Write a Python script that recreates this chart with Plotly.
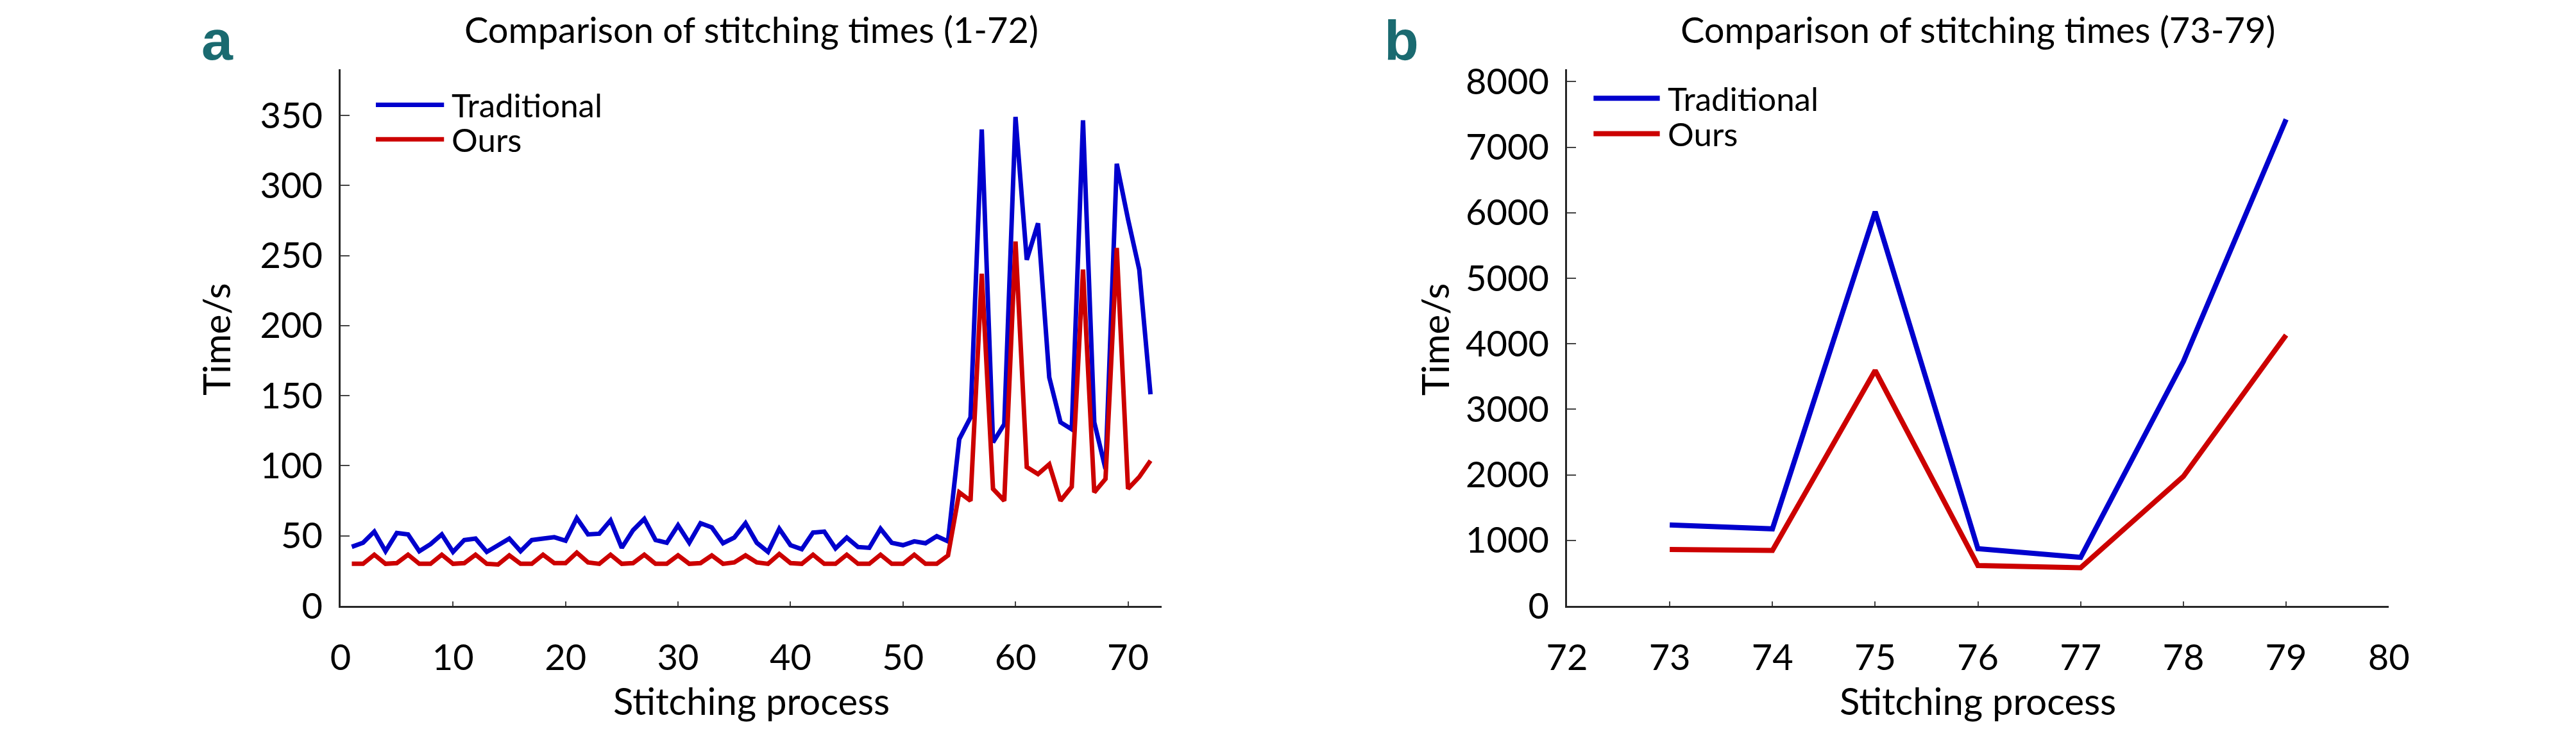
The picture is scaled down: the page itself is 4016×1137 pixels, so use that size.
import plotly.graph_objects as go

# ---------------- data ----------------
steps_a = list(range(1, 73))
traditional_a = [42.1, 45, 53, 39, 52, 51, 39, 44, 51, 38.5,
                 47, 48, 38.5, 43.5, 48, 39, 47, 48, 49, 46.5,
                 62.6, 51, 51.5, 61, 41.4, 54, 62, 47, 45, 57.5,
                 45, 59, 56, 44.7, 48.7, 59, 45, 38.5, 55, 43.3,
                 40.4, 52.3, 53, 41, 48.7, 42, 41.4, 55, 45, 43.3,
                 46, 44.7, 49.7, 46, 119, 134.5, 340, 116.7, 129.7, 349,
                 247, 273, 163, 131, 126, 346.5, 131, 97.7, 315.5, 276,
                 240, 151]
ours_a = [30, 30, 36.5, 30, 30.5, 36.5, 30, 30, 36.5, 30,
          30.5, 36.5, 30, 29.5, 36, 30, 30, 36.5, 30.5, 30.5,
          38, 31, 30, 36.5, 30, 30.5, 36.5, 30, 30, 36,
          30, 30.5, 36, 30, 31, 36, 31, 30, 37, 30.5,
          30, 36.5, 30, 30, 36.5, 30, 30, 36.5, 30, 30,
          36.5, 30, 30, 36, 81, 75, 237, 83.5, 75, 260,
          99, 94, 101, 75, 85, 240, 81, 90.6, 255.5, 83.5,
          92, 103.6]

steps_b = [73, 74, 75, 76, 77, 78, 79]
traditional_b = [1235, 1175, 6015, 872, 740, 3730, 7425]
ours_b = [860, 845, 3592, 615, 582, 1975, 4133]

series_names = ["Traditional", "Ours"]
title_a = "Comparison of stitching times (1-72)"
title_b = "Comparison of stitching times (73-79)"
x_title = "Stitching process"
y_title = "Time/s"
ticks_a_y = [0, 50, 100, 150, 200, 250, 300, 350]
ticks_a_x = [0, 10, 20, 30, 40, 50, 60, 70]
ticks_b_y = [0, 1000, 2000, 3000, 4000, 5000, 6000, 7000, 8000]
ticks_b_x = [72, 73, 74, 75, 76, 77, 78, 79, 80]

# ---------------- style ----------------
BLUE = "#0000CD"
RED = "#CC0000"
TEAL = "#1a6a70"
AX = "#262626"
FONT = "Lato, Open Sans, sans-serif"
W, H = 4016, 1137
LW_A, LW_B = 7, 8
TICK_SIZE = 56
TITLE_SIZE = 56
AXT_SIZE = 58
LEG_SIZE = 51

fig = go.Figure()
fig.add_trace(go.Scatter(x=steps_a, y=traditional_a, mode="lines", name=series_names[0],
                         line=dict(color=BLUE, width=LW_A), xaxis="x", yaxis="y", showlegend=False))
fig.add_trace(go.Scatter(x=steps_a, y=ours_a, mode="lines", name=series_names[1],
                         line=dict(color=RED, width=LW_A), xaxis="x", yaxis="y", showlegend=False))
fig.add_trace(go.Scatter(x=steps_b, y=traditional_b, mode="lines", name=series_names[0],
                         line=dict(color=BLUE, width=LW_B), xaxis="x2", yaxis="y2", showlegend=False))
fig.add_trace(go.Scatter(x=steps_b, y=ours_b, mode="lines", name=series_names[1],
                         line=dict(color=RED, width=LW_B), xaxis="x2", yaxis="y2", showlegend=False))

ydom = [1 - 970 / H, 1 - 97 / H]
common_x = dict(showgrid=False, zeroline=False, showline=True, linecolor=AX, linewidth=2.5,
                ticks="inside", ticklen=7, tickwidth=2, tickcolor="#444",
                tickfont=dict(family=FONT, size=TICK_SIZE, color="black"), ticklabelstandoff=30)
common_y = dict(showgrid=False, zeroline=False, showline=True, linecolor=AX, linewidth=2.5,
                ticks="inside", ticklen=14, tickwidth=2, tickcolor="#444",
                tickfont=dict(family=FONT, size=TICK_SIZE, color="black"), ticklabelstandoff=14)

fig.update_layout(
    width=W, height=H,
    margin=dict(l=0, r=0, t=0, b=0),
    paper_bgcolor="white", plot_bgcolor="white",
    showlegend=False,
    xaxis=dict(domain=[507 / W, 1808 / W], range=[0, 73], tickvals=ticks_a_x, anchor="y", **common_x),
    yaxis=dict(domain=ydom, range=[0, 383], tickvals=ticks_a_y, anchor="x", **common_y),
    xaxis2=dict(domain=[2450 / W, 3752 / W], range=[72, 80], tickvals=ticks_b_x, anchor="y2", **common_x),
    yaxis2=dict(domain=ydom, range=[0, 8190], tickvals=ticks_b_y, anchor="x2", **common_y),
)

ann = []
C = dict(xref="paper", yref="paper", showarrow=False, xanchor="center", yanchor="middle")
# panel letters
ann.append(dict(text="<b>a</b>", x=312 / W, y=1 - 50 / H,
                font=dict(family="Liberation Sans, Arial", size=88, color=TEAL), **C))
ann.append(dict(text="<b>b</b>", x=2188 / W, y=1 - 50 / H,
                font=dict(family="Liberation Sans, Arial", size=88, color=TEAL), **C))
# titles
for t, xc in [(title_a, 1157.5 / W), (title_b, 3101 / W)]:
    ann.append(dict(text=t, x=xc, y=1 - 32 / H, font=dict(family=FONT, size=TITLE_SIZE, color="black"), **C))
    ann.append(dict(text=x_title, x=xc, y=1 - 1124 / H, font=dict(family=FONT, size=AXT_SIZE, color="black"), **C))
for xc in [310 / W, 2240 / W]:
    ann.append(dict(text=y_title, x=xc, y=1 - 537 / H, textangle=-90,
                    font=dict(family=FONT, size=AXT_SIZE, color="black"), **C))

# manual legends
shapes = []
legend_specs = [
    ("x domain", "y domain", 0.043, 0.126, 0.134, 0.9336, 0.8694, LW_A),
    ("x2 domain", "y2 domain", 0.0323, 0.1129, 0.1209, 0.9460, 0.8800, LW_B),
]
for xr, yr, x0, x1, xt, yb, yo, lw in legend_specs:
    for name, col, yy in [(series_names[0], BLUE, yb), (series_names[1], RED, yo)]:
        shapes.append(dict(type="line", xref=xr, yref=yr, x0=x0, x1=x1, y0=yy, y1=yy,
                           line=dict(color=col, width=lw)))
        ann.append(dict(text=name, x=xt, y=yy, xref=xr, yref=yr, xanchor="left", yanchor="middle",
                        showarrow=False, font=dict(family=FONT, size=LEG_SIZE, color="black")))

fig.update_layout(annotations=ann, shapes=shapes)
fig.write_html("out.html")
